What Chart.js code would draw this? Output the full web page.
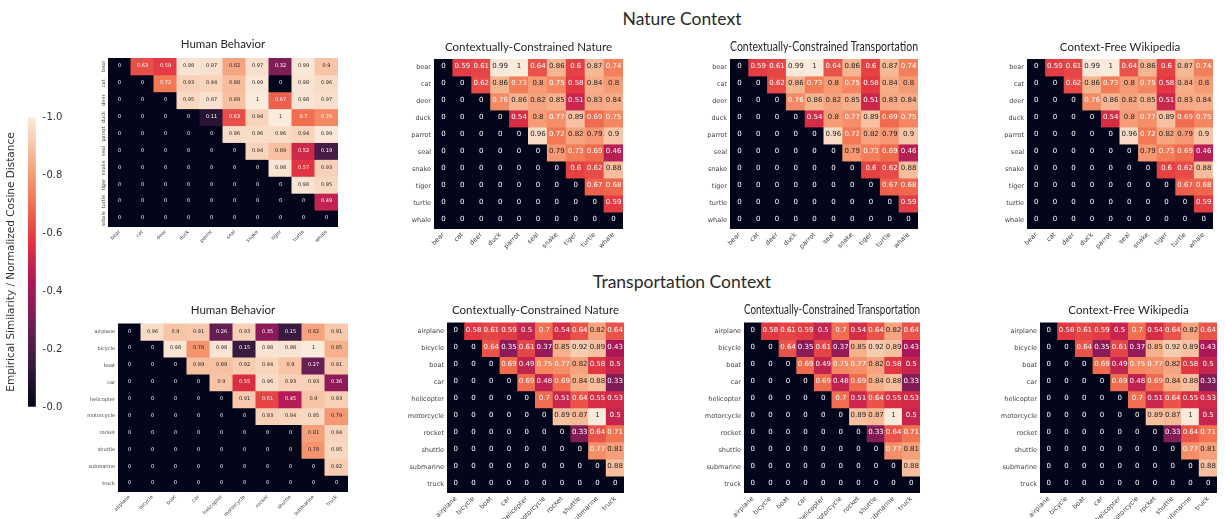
<!DOCTYPE html>
<html><head><meta charset="utf-8">
<script src="https://cdn.jsdelivr.net/npm/chart.js@4.4.1/dist/chart.umd.min.js"></script>
<style>
html,body{margin:0;padding:0;background:#fff;width:1225px;height:519px;overflow:hidden;position:relative;}
canvas{position:absolute;}
.main-title{position:absolute;font-family:Lato,"Open Sans",sans-serif;font-weight:400;font-size:17.5px;color:#2a2a2a;transform:translate(-50%,-50%);white-space:nowrap;}
</style></head><body>
<div class="main-title" style="left:682px;top:18px">Nature Context</div>
<div class="main-title" style="left:682px;top:281px">Transportation Context</div>
<canvas id="cb" width="82" height="320" style="left:0;top:100px"></canvas>
<canvas id="h1"></canvas><canvas id="h2"></canvas><canvas id="h3"></canvas><canvas id="h4"></canvas>
<canvas id="h5"></canvas><canvas id="h6"></canvas><canvas id="h7"></canvas><canvas id="h8"></canvas>
<script>
// ---------------- DATA ----------------
const animals = ['bear','cat','deer','duck','parrot','seal','snake','tiger','turtle','whale'];
const vehicles = ['airplane','bicycle','boat','car','helicopter','motorcycle','rocket','shuttle','submarine','truck'];

const humanNature = [
  [0,0.63,0.59,0.98,0.97,0.82,0.97,0.32,0.99,0.9],
  [0,0,0.72,0.93,0.94,0.88,0.99,0,0.98,0.96],
  [0,0,0,0.95,0.97,0.89,1,0.67,0.98,0.97],
  [0,0,0,0,0.11,0.63,0.94,1,0.7,0.76],
  [0,0,0,0,0,0.96,0.96,0.96,0.94,0.99],
  [0,0,0,0,0,0,0.94,0.89,0.52,0.19],
  [0,0,0,0,0,0,0,0.98,0.57,0.93],
  [0,0,0,0,0,0,0,0,0.98,0.95],
  [0,0,0,0,0,0,0,0,0,0.49],
  [0,0,0,0,0,0,0,0,0,0]
];
const ccNatureNature = [
  [0,0.59,0.61,0.99,1,0.64,0.86,0.6,0.87,0.74],
  [0,0,0.62,0.86,0.73,0.8,0.75,0.58,0.84,0.8],
  [0,0,0,0.76,0.86,0.82,0.85,0.51,0.83,0.84],
  [0,0,0,0,0.54,0.8,0.77,0.89,0.69,0.75],
  [0,0,0,0,0,0.96,0.72,0.82,0.79,0.9],
  [0,0,0,0,0,0,0.79,0.73,0.69,0.46],
  [0,0,0,0,0,0,0,0.6,0.62,0.88],
  [0,0,0,0,0,0,0,0,0.67,0.68],
  [0,0,0,0,0,0,0,0,0,0.59],
  [0,0,0,0,0,0,0,0,0,0]
];
const ccTransportNature = [
  [0,0.59,0.61,0.99,1,0.64,0.86,0.6,0.87,0.74],
  [0,0,0.62,0.86,0.73,0.8,0.75,0.58,0.84,0.8],
  [0,0,0,0.76,0.86,0.82,0.85,0.51,0.83,0.84],
  [0,0,0,0,0.54,0.8,0.77,0.89,0.69,0.75],
  [0,0,0,0,0,0.96,0.72,0.82,0.79,0.9],
  [0,0,0,0,0,0,0.79,0.73,0.69,0.46],
  [0,0,0,0,0,0,0,0.6,0.62,0.88],
  [0,0,0,0,0,0,0,0,0.67,0.68],
  [0,0,0,0,0,0,0,0,0,0.59],
  [0,0,0,0,0,0,0,0,0,0]
];
const wikiNature = [
  [0,0.59,0.61,0.99,1,0.64,0.86,0.6,0.87,0.74],
  [0,0,0.62,0.86,0.73,0.8,0.75,0.58,0.84,0.8],
  [0,0,0,0.76,0.86,0.82,0.85,0.51,0.83,0.84],
  [0,0,0,0,0.54,0.8,0.77,0.89,0.69,0.75],
  [0,0,0,0,0,0.96,0.72,0.82,0.79,0.9],
  [0,0,0,0,0,0,0.79,0.73,0.69,0.46],
  [0,0,0,0,0,0,0,0.6,0.62,0.88],
  [0,0,0,0,0,0,0,0,0.67,0.68],
  [0,0,0,0,0,0,0,0,0,0.59],
  [0,0,0,0,0,0,0,0,0,0]
];
const humanTransport = [
  [0,0.96,0.9,0.91,0.26,0.93,0.35,0.15,0.82,0.91],
  [0,0,0.98,0.78,0.98,0.15,0.98,0.98,1,0.85],
  [0,0,0,0.89,0.89,0.92,0.94,0.9,0.27,0.91],
  [0,0,0,0,0.9,0.55,0.96,0.93,0.93,0.36],
  [0,0,0,0,0,0.91,0.61,0.45,0.9,0.93],
  [0,0,0,0,0,0,0.93,0.94,0.95,0.79],
  [0,0,0,0,0,0,0,0,0.81,0.94],
  [0,0,0,0,0,0,0,0,0.78,0.95],
  [0,0,0,0,0,0,0,0,0,0.92],
  [0,0,0,0,0,0,0,0,0,0]
];
const ccNatureTransport = [
  [0,0.58,0.61,0.59,0.5,0.7,0.54,0.64,0.82,0.64],
  [0,0,0.64,0.35,0.61,0.37,0.85,0.92,0.89,0.43],
  [0,0,0,0.69,0.49,0.75,0.77,0.82,0.58,0.5],
  [0,0,0,0,0.69,0.48,0.69,0.84,0.88,0.33],
  [0,0,0,0,0,0.7,0.51,0.64,0.55,0.53],
  [0,0,0,0,0,0,0.89,0.87,1,0.5],
  [0,0,0,0,0,0,0,0.33,0.64,0.71],
  [0,0,0,0,0,0,0,0,0.77,0.81],
  [0,0,0,0,0,0,0,0,0,0.88],
  [0,0,0,0,0,0,0,0,0,0]
];
const ccTransportTransport = [
  [0,0.58,0.61,0.59,0.5,0.7,0.54,0.64,0.82,0.64],
  [0,0,0.64,0.35,0.61,0.37,0.85,0.92,0.89,0.43],
  [0,0,0,0.69,0.49,0.75,0.77,0.82,0.58,0.5],
  [0,0,0,0,0.69,0.48,0.69,0.84,0.88,0.33],
  [0,0,0,0,0,0.7,0.51,0.64,0.55,0.53],
  [0,0,0,0,0,0,0.89,0.87,1,0.5],
  [0,0,0,0,0,0,0,0.33,0.64,0.71],
  [0,0,0,0,0,0,0,0,0.77,0.81],
  [0,0,0,0,0,0,0,0,0,0.88],
  [0,0,0,0,0,0,0,0,0,0]
];
const wikiTransport = [
  [0,0.58,0.61,0.59,0.5,0.7,0.54,0.64,0.82,0.64],
  [0,0,0.64,0.35,0.61,0.37,0.85,0.92,0.89,0.43],
  [0,0,0,0.69,0.49,0.75,0.77,0.82,0.58,0.5],
  [0,0,0,0,0.69,0.48,0.69,0.84,0.88,0.33],
  [0,0,0,0,0,0.7,0.51,0.64,0.55,0.53],
  [0,0,0,0,0,0,0.89,0.87,1,0.5],
  [0,0,0,0,0,0,0,0.33,0.64,0.71],
  [0,0,0,0,0,0,0,0,0.77,0.81],
  [0,0,0,0,0,0,0,0,0,0.88],
  [0,0,0,0,0,0,0,0,0,0]
];
const colorbarTicks = [0, 0.2, 0.4, 0.6, 0.8, 1.0];
const colorbarLabel = 'Empirical Similarity / Normalized Cosine Distance';

// ---------------- COLORMAP (seaborn "rocket") ----------------
const ROCKET = [
  [0.000,[3,5,26]],[0.143,[53,25,62]],[0.286,[112,31,87]],[0.429,[173,23,89]],
  [0.571,[225,51,66]],[0.714,[243,118,81]],[0.857,[246,180,143]],[1.000,[250,235,221]]
];
function rocket(v){
  v = Math.max(0, Math.min(1, v));
  for (let i = 1; i < ROCKET.length; i++){
    if (v <= ROCKET[i][0]){
      const [a, ca] = ROCKET[i-1], [b, cb] = ROCKET[i];
      const t = (v - a) / (b - a);
      return ca.map((c, k) => Math.round(c + (cb[k] - c) * t));
    }
  }
  return ROCKET[ROCKET.length-1][1];
}
const rgb = c => `rgb(${c[0]},${c[1]},${c[2]})`;
function lum(c){
  const f = v => { v /= 255; return v <= 0.03928 ? v/12.92 : Math.pow((v+0.055)/1.055, 2.4); };
  return 0.2126*f(c[0]) + 0.7152*f(c[1]) + 0.0722*f(c[2]);
}
const textColor = v => lum(rocket(v)) > 0.408 ? '#262626' : '#ffffff';

// ---------------- PLUGINS ----------------
const annotatePlugin = {
  id: 'annotate',
  afterDatasetsDraw(chart, args, opts){
    const ctx = chart.ctx;
    ctx.save();
    ctx.font = `${opts.size}px "DejaVu Sans"`;
    ctx.textAlign = 'center';
    ctx.textBaseline = 'middle';
    chart.data.datasets.forEach((ds, r) => {
      const meta = chart.getDatasetMeta(r);
      meta.data.forEach((bar, j) => {
        const v = ds.vals[j];
        const p = bar.getProps(['x','y','base'], true);
        ctx.fillStyle = textColor(v);
        ctx.fillText(String(v), p.x, (p.y + p.base)/2 - opts.lift);
      });
    });
    ctx.restore();
  }
};
const rotYPlugin = {
  id: 'rotY',
  afterDraw(chart, args, opts){
    if (!opts.enabled) return;
    const ctx = chart.ctx, ys = chart.scales.y, left = chart.chartArea.left;
    ctx.save();
    ctx.font = `${opts.size}px "DejaVu Sans"`;
    ctx.fillStyle = '#444';
    ctx.textAlign = 'center';
    ctx.textBaseline = 'alphabetic';
    opts.labels.forEach((lab, i) => {
      ctx.save();
      ctx.translate(left - 3, ys.getPixelForValue(i));
      ctx.rotate(-Math.PI/2);
      ctx.fillText(lab, 0, 0);
      ctx.restore();
    });
    ctx.restore();
  }
};

// ---------------- HEATMAP FACTORY ----------------
function heatmap(id, title, rows, cols, values, g){
  const titleSize = 11.5, titleLH = titleSize * 1.2;
  const gap = g.t - g.ty - titleLH/2;
  const pr = 3;
  const W = (g.r - g.l) + g.yw + pr;
  const H = titleLH + gap + (g.b - g.t) + g.xh;
  const cv = document.getElementById(id);
  cv.width = Math.round(W); cv.height = Math.round(H);
  cv.style.left = (g.l - g.yw) + 'px';
  cv.style.top = (g.ty - titleLH/2) + 'px';
  new Chart(cv, {
    type: 'bar',
    data: {
      labels: cols,
      datasets: rows.map((rl, r) => ({
        label: rl,
        data: cols.map(() => [r - 0.5, r + 0.5]),
        vals: values[r],
        backgroundColor: values[r].map(v => rgb(rocket(v))),
        grouped: false, barPercentage: 1, categoryPercentage: 1,
        borderWidth: 0, borderSkipped: false, inflateAmount: 0.5
      }))
    },
    options: {
      responsive: false, animation: false, events: [], devicePixelRatio: 1,
      layout: { padding: { left: 0, right: pr, top: 0, bottom: 0 } },
      plugins: {
        legend: { display: false }, tooltip: { enabled: false },
        title: { display: true, text: title, fullSize: false, color: '#262626',
                 font: { family: 'Lato', size: g.ts || titleSize, weight: 'normal', lineHeight: titleLH / (g.ts || titleSize) },
                 padding: { top: 0, bottom: gap } },
        annotate: { size: g.af, lift: g.lift },
        rotY: { enabled: !!g.rotY, labels: rows, size: g.tf }
      },
      scales: {
        x: { type: 'category', offset: true,
             grid: { display: false, drawTicks: false }, border: { display: false },
             ticks: { autoSkip: false, minRotation: 45, maxRotation: 45, padding: 2,
                      color: '#444', font: { family: 'DejaVu Sans', size: g.tf } },
             afterFit: s => { s.height = g.xh; } },
        y: { type: 'linear', reverse: true, min: -0.5, max: 9.5,
             grid: { display: false, drawTicks: false }, border: { display: false },
             afterBuildTicks: s => { s.ticks = rows.map((_, i) => ({ value: i })); },
             ticks: { display: !g.rotY, padding: 3, color: '#444',
                      font: { family: 'DejaVu Sans', size: g.tf },
                      callback: v => rows[v] },
             afterFit: s => { s.width = g.yw; } }
      }
    },
    plugins: [annotatePlugin, rotYPlugin]
  });
}

const small = { tf: 5, af: 5, lift: 0.5 };
const big = { tf: 6.5, af: 7, lift: 1 };
heatmap('h1', 'Human Behavior', animals, animals, humanNature,
  Object.assign({ l: 108, t: 58, r: 337.5, b: 227, ty: 44, yw: 14, xh: 24, rotY: true }, small));
heatmap('h2', 'Contextually-Constrained Nature', animals, animals, ccNatureNature,
  Object.assign({ l: 434, t: 59, r: 622.5, b: 229.5, ty: 47, yw: 40, xh: 28 }, big));
heatmap('h3', 'Contextually-Constrained Transportation', animals, animals, ccTransportNature,
  Object.assign({ l: 729.5, t: 59, r: 917.5, b: 229.5, ty: 47, yw: 40, xh: 28, ts: 12.5 }, big));
heatmap('h4', 'Context-Free Wikipedia', animals, animals, wikiNature,
  Object.assign({ l: 1027, t: 59, r: 1212.5, b: 229.5, ty: 47, yw: 40, xh: 28 }, big));
heatmap('h5', 'Human Behavior', vehicles, vehicles, humanTransport,
  Object.assign({ l: 117.5, t: 323.5, r: 347.5, b: 492.5, ty: 310, yw: 50, xh: 26 }, small));
heatmap('h6', 'Contextually-Constrained Nature', vehicles, vehicles, ccNatureTransport,
  Object.assign({ l: 447, t: 322.5, r: 624, b: 493, ty: 310, yw: 60, xh: 26 }, big));
heatmap('h7', 'Contextually-Constrained Transportation', vehicles, vehicles, ccTransportTransport,
  Object.assign({ l: 743.5, t: 322.5, r: 919.5, b: 493, ty: 310, yw: 60, xh: 26, ts: 12.5 }, big));
heatmap('h8', 'Context-Free Wikipedia', vehicles, vehicles, wikiTransport,
  Object.assign({ l: 1040, t: 322.5, r: 1216.5, b: 493, ty: 310, yw: 60, xh: 26 }, big));

// ---------------- COLORBAR ----------------
new Chart(document.getElementById('cb'), {
  type: 'bar',
  data: {
    labels: [''],
    datasets: [{
      data: [[colorbarTicks[0], colorbarTicks[colorbarTicks.length-1]]],
      yAxisID: 'y',
      barPercentage: 1, categoryPercentage: 1, borderWidth: 0,
      backgroundColor: (c) => {
        const ca = c.chart.chartArea;
        if (!ca) return '#000';
        const grad = c.chart.ctx.createLinearGradient(0, ca.bottom, 0, ca.top);
        ROCKET.forEach(([p, col]) => grad.addColorStop(p, rgb(col)));
        return grad;
      }
    }]
  },
  options: {
    responsive: false, animation: false, events: [], devicePixelRatio: 1,
    layout: { padding: { left: 0, right: 0, top: 17, bottom: 13 } },
    plugins: { legend: { display: false }, tooltip: { enabled: false } },
    scales: {
      x: { display: false, offset: false },
      yl: { type: 'linear', position: 'left', min: 0, max: 1,
            grid: { display: false }, border: { display: false },
            ticks: { display: false },
            title: { display: true, text: colorbarLabel, color: '#333',
                     font: { family: 'DejaVu Sans', size: 10.5 }, padding: { top: 5, bottom: 0 } },
            afterFit: s => { s.width = 28; } },
      y: { type: 'linear', position: 'right', min: 0, max: 1,
           grid: { drawOnChartArea: false, drawTicks: true, tickLength: 2.5, color: '#444' },
           border: { display: false },
           afterBuildTicks: s => { s.ticks = colorbarTicks.map(v => ({ value: v })); },
           ticks: { padding: 1, color: '#333', font: { family: 'DejaVu Sans', size: 10 },
                    callback: v => Number(v).toFixed(1) },
           afterFit: s => { s.width = 39; } }
    }
  }
});
</script>
</body></html>
